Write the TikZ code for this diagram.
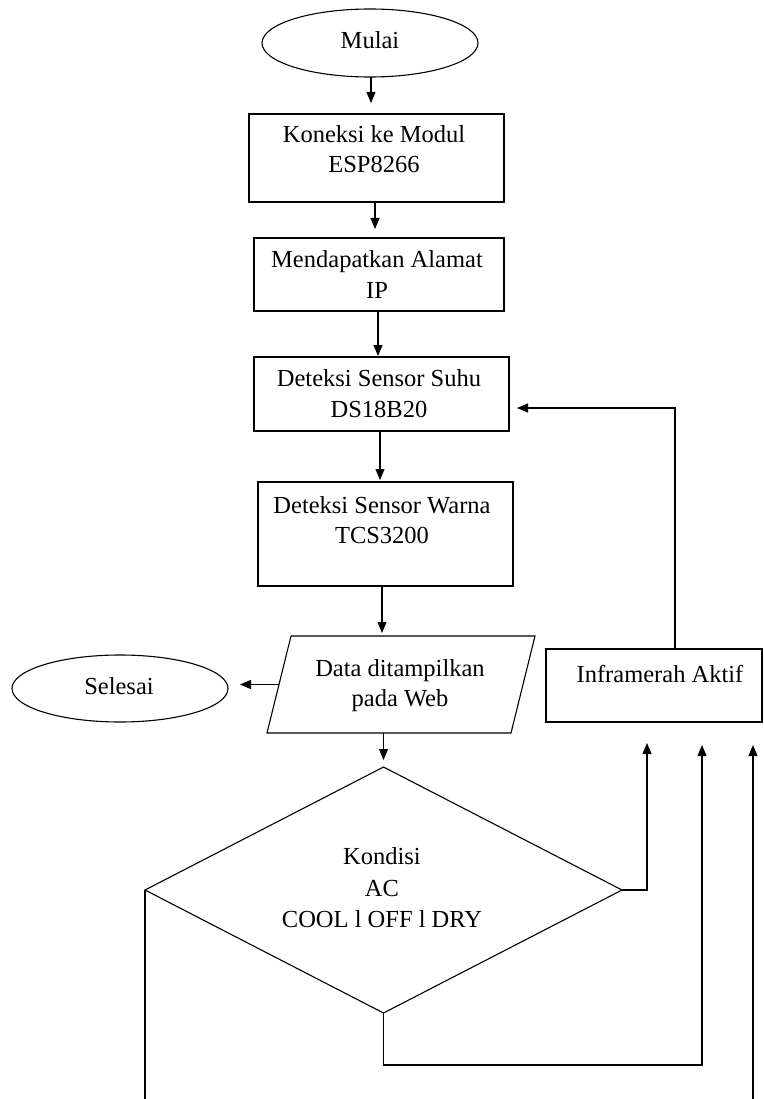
\documentclass[tikz,border=0pt]{standalone}
\usepackage{fontspec}
\setmainfont{Liberation Serif}
\usetikzlibrary{arrows.meta,shapes.geometric}
\begin{document}
\begin{tikzpicture}[x=1pt,y=-1pt,
  line width=1.1pt,
  every node/.style={outer sep=0pt, inner sep=0pt},
  boxst/.style={draw, rectangle},
  ovalst/.style={draw, ellipse},
  decst/.style={draw, diamond},
  txt/.style={anchor=base, font=\fontsize{24.5}{29}\selectfont},
  arr/.style={-{Triangle[length=11pt,width=9pt]}},
]
\useasboundingbox (0,0) rectangle (763,1099);

% main column
\node[ovalst, minimum width=216pt, minimum height=68pt] (mulai) at (370,43) {};
\node[txt] (mulaiT) at (370,49) {Mulai};

\node[boxst, minimum width=255pt, minimum height=88pt] (koneksi) at (376.5,158) {};
\node[txt] (koneksiA) at (374,143) {Koneksi ke Modul};
\node[txt] (koneksiB) at (374,173) {ESP8266};

\node[boxst, minimum width=250pt, minimum height=73pt] (alamat) at (379,274.5) {};
\node[txt] (alamatA) at (377,267) {Mendapatkan Alamat};
\node[txt] (alamatB) at (377,298) {IP};

\node[boxst, minimum width=255pt, minimum height=74pt] (suhu) at (381.5,394) {};
\node[txt] (suhuA) at (379,386) {Deteksi Sensor Suhu};
\node[txt] (suhuB) at (379,417) {DS18B20};

\node[boxst, minimum width=255pt, minimum height=104pt] (warna) at (385.5,534) {};
\node[txt] (warnaA) at (382,513) {Deteksi Sensor Warna};
\node[txt] (warnaB) at (382,543) {TCS3200};

% input/output parallelogram: frame node plus slanted outline
\node[rectangle, minimum width=268pt, minimum height=97pt] (data) at (401,684.5) {};
\draw ([xshift=24pt]data.north west) -- (data.north east)
  -- ([xshift=-24pt]data.south east) -- (data.south west) -- cycle;
\node[txt] (dataA) at (400,676) {Data ditampilkan};
\node[txt] (dataB) at (400,706) {pada Web};

\node[ovalst, minimum width=216pt, minimum height=67pt] (selesai) at (120,688.5) {};
\node[txt] (selesaiT) at (119,694) {Selesai};

\node[boxst, minimum width=216pt, minimum height=73pt] (infra) at (654,685.5) {};
\node[txt] (infraT) at (660,682) {Inframerah Aktif};

\node[decst, minimum width=477pt, minimum height=246pt] (kondisi) at (383.5,890) {};
\node[txt] (kondisiA) at (382,864) {Kondisi};
\node[txt] (kondisiB) at (382,896) {AC};
\node[txt] (kondisiC) at (382,927) {COOL l OFF l DRY};

% free ends at the lower border
\coordinate (leftout) at (145,1099);
\coordinate (loopin) at (753,1099);

% connectors
\draw[arr, shorten >=11pt] ([xshift=1pt]mulai.south) -- ([xshift=1pt]mulai.south |- koneksi.north);
\draw[arr, shorten >=9pt] ([xshift=-1.5pt]koneksi.south) -- ([xshift=-1.5pt]koneksi.south |- alamat.north);
\draw[arr, shorten >=1pt] ([xshift=-1pt]alamat.south) -- ([xshift=-1pt]alamat.south |- suhu.north);
\draw[arr, shorten >=2pt] ([xshift=-1.5pt]suhu.south) -- ([xshift=-1.5pt]suhu.south |- warna.north);
\draw[arr, shorten >=3pt] ([xshift=-3.5pt]warna.south) -- ([xshift=-3.5pt]warna.south |- data.north);
\draw[arr, shorten >=7pt] (kondisi.north |- data.south) -- (kondisi.north);
\draw[arr] ([xshift=12pt]data.west) -- ([xshift=12pt]data.west -| selesai.east);
\draw[arr] ([xshift=21pt]infra.north) |- ([xshift=8pt,yshift=-14pt]suhu.east);
\draw[arr] (kondisi.east) -| ([xshift=-7pt,yshift=-21pt]infra.south);
\draw[arr] (kondisi.south) -- ++(0,52) -| ([xshift=48pt,yshift=-23pt]infra.south);
\draw[arr] (loopin) -- ([xshift=99pt,yshift=-23pt]infra.south);
\draw (kondisi.west) -- (leftout);
\end{tikzpicture}
\end{document}
